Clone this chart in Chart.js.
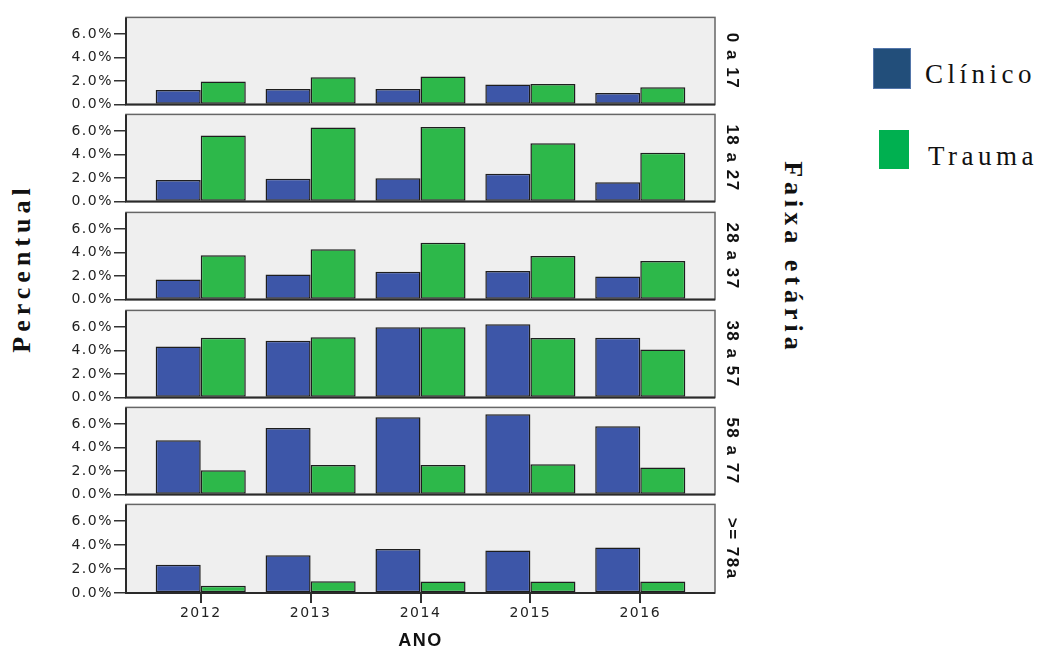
<!DOCTYPE html>
<html>
<head>
<meta charset="utf-8">
<script src="https://cdn.jsdelivr.net/npm/chart.js@4.4.0/dist/chart.umd.min.js"></script>
<style>
    body { margin: 0; background: #fff; }
    #wrap { position: relative; width: 1041px; height: 650px; overflow: hidden; }
    #wrap canvas { position: absolute; left: 0; }
    .titulo { position: absolute; white-space: nowrap; font-family: 'Liberation Serif', 'Times New Roman', serif; font-weight: bold; font-size: 26px; letter-spacing: 5px; color: #111; }
    .leg-box { position: absolute; box-sizing: border-box; }
    .leg-text { position: absolute; font-family: 'Liberation Serif', 'Times New Roman', serif; font-size: 27px; letter-spacing: 4.5px; color: #111; line-height: 1; transform: translateY(-50%); }
</style>
</head>
<body>
<div id="wrap">
    <div class="titulo" style="left:22px; top:268px; transform: translate(-50%, -50%) rotate(-90deg);">Percentual</div>
    <div class="titulo" style="left:793px; top:258px; transform: translate(-50%, -50%) rotate(90deg);">Faixa etária</div>
    <div class="leg-box" style="left:873px; top:48px; width:38px; height:41px; background:#224e7a; border:1px solid #5476aa;"></div>
    <div class="leg-text" style="left:925px; top:74px;">Clínico</div>
    <div class="leg-box" style="left:879px; top:130px; width:30px; height:39px; background:#00b050;"></div>
    <div class="leg-text" style="left:928px; top:156px;">Trauma</div>
</div>
<script>
const anos = [2012, 2013, 2014, 2015, 2016];
const faixas = ['0 a 17', '18 a 27', '28 a 37', '38 a 57', '58 a 77', '>= 78a'];

// percentual por faixa etária, um valor por ano
const clinico0a17 = [1.23, 1.32, 1.32, 1.70, 0.99];
const trauma0a17 = [1.97, 2.33, 2.39, 1.75, 1.48];
const clinico18a27 = [1.84, 1.94, 1.98, 2.36, 1.65];
const trauma18a27 = [5.62, 6.28, 6.33, 4.96, 4.14];
const clinico28a37 = [1.70, 2.12, 2.36, 2.42, 1.95];
const trauma28a37 = [3.76, 4.28, 4.83, 3.70, 3.27];
const clinico38a57 = [4.34, 4.83, 5.98, 6.23, 5.08];
const trauma38a57 = [5.08, 5.13, 5.96, 5.05, 4.09];
const clinico58a77 = [4.61, 5.65, 6.56, 6.81, 5.79];
const trauma58a77 = [2.06, 2.52, 2.52, 2.58, 2.30];
const clinico78 = [2.35, 3.15, 3.67, 3.56, 3.81];
const trauma78 = [0.60, 0.99, 0.96, 0.96, 0.96];

const clinico = [clinico0a17, clinico18a27, clinico28a37, clinico38a57, clinico58a77, clinico78];
const trauma = [trauma0a17, trauma18a27, trauma28a37, trauma38a57, trauma58a77, trauma78];

const yTicks = [0, 2, 4, 6];

// zero line of each panel
const zeroLines = [106, 203, 301, 399, 496, 593];
const panelHeight = 90;
const wrap = document.getElementById('wrap');

const spacing = {
    id: 'spacing',
    beforeUpdate: function (chart) { chart.ctx.letterSpacing = '1.5px'; },
    beforeDraw: function (chart) { chart.ctx.letterSpacing = '1.5px'; }
};

const painel = {
    id: 'painel',
    beforeDatasetsDraw: function (chart) {
        const a = chart.chartArea;
        const ctx = chart.ctx;
        ctx.save();
        ctx.fillStyle = '#efefef';
        ctx.fillRect(a.left, a.top, a.right - a.left, a.bottom - a.top);
        ctx.restore();
    },
    afterDraw: function (chart) {
        const a = chart.chartArea;
        const ctx = chart.ctx;
        ctx.save();
        ctx.strokeStyle = '#666';
        ctx.lineWidth = 1.5;
        ctx.strokeRect(a.left, a.top, a.right - a.left, a.bottom - a.top);
        ctx.strokeStyle = '#2a2a2a';
        ctx.lineWidth = 2;
        ctx.beginPath();
        ctx.moveTo(a.left, a.top);
        ctx.lineTo(a.left, a.bottom);
        ctx.lineTo(a.right, a.bottom);
        ctx.stroke();
        ctx.restore();
    }
};

function pontos(vals) {
    return anos.map(function (ano, i) { return { x: ano, y: vals[i] }; });
}

faixas.forEach(function (faixa, i) {
    const ultimo = i === faixas.length - 1;
    const canvas = document.createElement('canvas');
    const h = 8 + panelHeight + (ultimo ? 57 : 8);
    canvas.width = 760;
    canvas.height = h;
    canvas.style.top = (zeroLines[i] - panelHeight - 8) + 'px';
    wrap.appendChild(canvas);

    new Chart(canvas, {
        type: 'bar',
        data: {
            datasets: [
                {
                    label: 'Clínico',
                    data: pontos(clinico[i]),
                    backgroundColor: '#3d56a8',
                    borderColor: '#1e1e1e',
                    borderWidth: 1.5,
                    borderSkipped: false
                },
                {
                    label: 'Trauma',
                    data: pontos(trauma[i]),
                    backgroundColor: '#2db84a',
                    borderColor: '#1e1e1e',
                    borderWidth: 1.5,
                    borderSkipped: false
                }
            ]
        },
        options: {
            responsive: false,
            animation: false,
            events: [],
            categoryPercentage: 0.82,
            barPercentage: 1.0,
            layout: { padding: { top: 8, bottom: ultimo ? 0 : 8, left: 0, right: 0 } },
            plugins: {
                legend: { display: false },
                tooltip: { enabled: false }
            },
            scales: {
                x: {
                    type: 'linear',
                    display: ultimo,
                    min: 2011.32,
                    max: 2016.68,
                    offset: false,
                    grid: { display: true, drawOnChartArea: false, offset: false, tickLength: 10, color: '#333', lineWidth: 2 },
                    border: { display: false },
                    ticks: {
                        stepSize: 1,
                        includeBounds: false,
                        padding: 2,
                        color: '#222',
                        font: { family: 'DejaVu Sans', size: 14 },
                        maxRotation: 0,
                        callback: function (v) { return anos.indexOf(v) >= 0 ? String(v) : ''; }
                    },
                    title: {
                        display: true,
                        text: 'ANO',
                        color: '#111',
                        font: { family: 'Liberation Sans', size: 18, weight: 'bold', lineHeight: 1 },
                        padding: { top: 0, bottom: 0 }
                    },
                    afterFit: function (scale) { if (ultimo) scale.height = 57; }
                },
                y: {
                    min: 0,
                    max: 7.4,
                    grid: { display: true, drawOnChartArea: false, tickLength: 12, color: '#333', lineWidth: 1.5 },
                    border: { display: false },
                    ticks: {
                        stepSize: 2,
                        includeBounds: false,
                        padding: 1,
                        color: '#222',
                        font: { family: 'DejaVu Sans', size: 14 },
                        callback: function (v) { return yTicks.indexOf(v) >= 0 ? v.toFixed(1) + '%' : ''; }
                    },
                    afterFit: function (scale) { scale.width = 126; }
                },
                faixa: {
                    type: 'linear',
                    position: 'right',
                    grid: { display: false },
                    border: { display: false },
                    ticks: { display: false },
                    title: {
                        display: true,
                        text: faixa,
                        color: '#111',
                        font: { family: 'Liberation Sans', size: 17, weight: 'bold' },
                        padding: { top: 18, bottom: 0 }
                    },
                    afterFit: function (scale) { scale.width = 45; }
                }
            }
        },
        plugins: [spacing, painel]
    });
});
</script>
</body>
</html>
